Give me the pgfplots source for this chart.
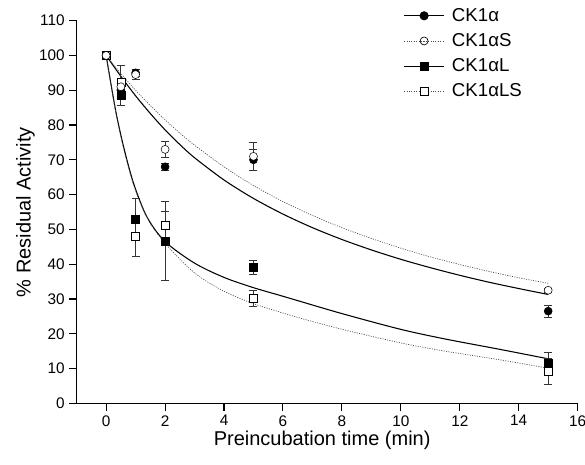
\documentclass[border=0pt]{standalone}
\usepackage{fontspec}
\setmainfont{Liberation Sans}
\usepackage{pgfplots}
\pgfplotsset{compat=1.18}
\usetikzlibrary{calc}

\begin{document}
\begin{tikzpicture}
\begin{axis}[
  scale only axis, width=375.75pt, height=287pt,
  xmin=-1, xmax=16, ymin=0, ymax=110,
  xtick={0,2,...,16}, ytick={0,10,...,110},
  axis lines=left, axis line style={-, line width=0.9pt},
  major tick style={line width=0.8pt, black},
  major tick length=5.5pt, tick align=outside,
  /pgf/number format/assume math mode=true,
  ticklabel style={font=\fontsize{11.5pt}{13pt}\selectfont},
  xlabel={Preincubation time (min)},
  ylabel={\% Residual Activity},
  label style={font=\fontsize{15pt}{17pt}\selectfont},
  xlabel style={at={(axis description cs:0.49,-0.096)}, anchor=center},
  ylabel style={at={(axis description cs:-0.102,0.5)}, anchor=center},
  clip=false,
  legend style={draw=none, fill=none, at={(rel axis cs:0.652,1.04)}, anchor=north west,
    font=\fontsize{14pt}{16pt}\selectfont, row sep=3.6pt, inner sep=0pt,
    nodes={inner xsep=5.5pt}},
  legend cell align=left,
  legend image code/.code={\draw[mark repeat=2, mark phase=2, #1]
    plot coordinates {(0pt,0pt) (15pt,0pt) (30pt,0pt)};},
  error bars/error bar style={line width=0.6pt, black!80},
  error bars/error mark options={line width=0.6pt, black!80, mark size=3pt, rotate=90},
]
\coordinate (ll) at (rel axis cs:0,0);
\coordinate (ur) at (rel axis cs:1,1);

% legend entries
\addlegendimage{black, line width=0.8pt, mark=*, mark size=3pt, mark options={solid}}
\addlegendentry{CK1α}
\addlegendimage{black!70, line width=0.5pt, dash pattern=on 0.8pt off 1pt, mark=o, mark size=3pt, mark options={solid, black, fill=white}}
\addlegendentry{CK1αS}
\addlegendimage{black, line width=0.8pt, mark=square*, mark size=3pt, mark options={solid}}
\addlegendentry{CK1αL}
\addlegendimage{black!70, line width=0.5pt, dash pattern=on 0.8pt off 1pt, mark=square*, mark size=3pt, mark options={solid, black, fill=white}}
\addlegendentry{CK1αLS}

% fitted curves
\addplot[forget plot, black, line width=0.8pt, smooth, no marks] coordinates {
  (0,100) (0.5,94) (1,88.4) (1.5,83.3) (2,78.6) (2.5,74.4) (3,70.6) (4,64.2)
  (5,58.9) (6,54.4) (7,50.5) (8,47.1) (9,44.1) (10,41.4) (11,39) (12,36.8)
  (13,34.8) (14,33) (15,31.3)};
\addplot[forget plot, black!70, line width=0.5pt, dash pattern=on 0.8pt off 1pt, smooth, no marks] coordinates {
  (0,100) (0.5,94.8) (1,90) (1.5,85.6) (2,81.5) (2.5,77.7) (3,74.2) (4,68)
  (5,62.6) (6,58) (7,54) (8,50.5) (9,47.4) (10,44.6) (11,42.1) (12,39.9)
  (13,37.9) (14,36.1) (15,34.5)};
\addplot[forget plot, black, line width=0.8pt, smooth, no marks] coordinates {
  (0,100) (0.32,84.3) (0.6,73.5) (0.94,63) (1.39,53.5) (2,46.5) (3,40.3) (4,36.2)
  (4.98,33.3) (5.91,31) (6.59,29.3) (8,25.8) (9.98,21.3) (11.5,18.5) (13.37,15.5) (15,12.8)};
\addplot[forget plot, black!70, line width=0.5pt, dash pattern=on 0.8pt off 1pt, smooth, no marks] coordinates {
  (0,100) (0.32,84) (0.6,73) (0.94,62.5) (1.39,53.3) (2,46) (3,37.5) (4,32.2)
  (4.98,28.7) (5.91,26.2) (6.59,24.5) (8,21.3) (9.98,17.4) (11.5,15) (13.37,12.5) (15,10.1)};

% data points
\addplot[forget plot, only marks, mark=square*, mark size=3pt, black,
  error bars/.cd, y dir=both, y explicit] coordinates {
  (0,100) +- (0,0) (0.5,88.5) +- (0,3) (1,53) +- (0,6) (2,46.7) +- (0,11.3)
  (5,39.1) +- (0,2.1) (15,11.5) +- (0,3)};
\addplot[forget plot, only marks, mark=square*, mark size=3pt, black, mark options={fill=white},
  error bars/.cd, y dir=both, y explicit] coordinates {
  (0,100) +- (0,0) (0.5,92.3) +- (0,4.7) (1,48) +- (0,5.7) (2,51.2) +- (0,4.1)
  (5,30.2) +- (0,2.3) (15,9.1) +- (0,3.8)};
\addplot[forget plot, only marks, mark=*, mark size=3pt, black,
  error bars/.cd, y dir=both, y explicit] coordinates {
  (0,100) +- (0,0) (0.5,90) +- (0,2) (1,95) +- (0,1) (2,68) +- (0,1)
  (5,70) +- (0,3) (15,26.5) +- (0,1.7)};
\addplot[forget plot, only marks, mark=*, mark size=3pt, black, mark options={fill=white},
  error bars/.cd, y dir=both, y explicit] coordinates {
  (0,100) +- (0,0) (0.5,91) +- (0,2) (1,94.5) +- (0,1.5) (2,73) +- (0,2.3)
  (5,71) +- (0,4) (15,32.5) +- (0,0.5)};
\end{axis}
\pgfresetboundingbox
\path[use as bounding box] ($(ll)+(-57.5pt,-45.5pt)$) rectangle ($(ur)+(5.5pt,15.5pt)$);
\end{tikzpicture}
\end{document}
